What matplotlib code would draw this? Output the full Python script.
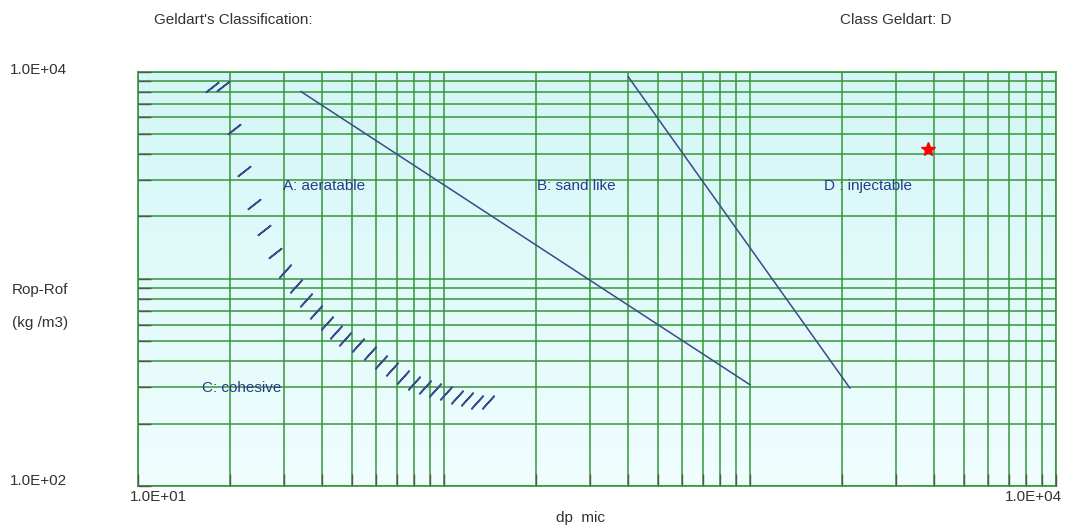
import matplotlib
matplotlib.use("Agg")
import matplotlib.pyplot as plt
import numpy as np
from matplotlib.ticker import LogLocator, NullFormatter

# ---- data ----
ab_dp = [34.1, 1000.0]
ab_rho = [8000.0, 308.0]
bd_dp = [400.0, 2120.0]
bd_rho = [9430.0, 297.0]
ac_dp = [17.45, 18.96, 20.59, 22.20, 23.94, 25.81, 28.04, 30.23, 32.83, 35.40,
         38.17, 41.46, 44.37, 47.49, 52.36, 57.32, 62.27, 67.63, 73.45, 79.80,
         86.69, 93.46, 101.5, 110.3, 118.9, 128.2, 139.3]
ac_rho = [8374, 8466, 5254, 3296, 2286, 1713, 1327, 1087, 920, 788,
          690, 610, 552, 511, 478, 438, 396, 366, 335, 314,
          300, 290, 281, 269, 263, 254, 254]
point_dp = [3810.0]
point_rho = [4220.0]
region_labels = ["A: aeratable", "B: sand like", "D : injectable", "C: cohesive"]
region_dp = [29.8, 201.0, 1746.0, 16.2]
region_rho = [2790.0, 2790.0, 2790.0, 296.0]
x_tick_labels = ["1.0E+01", "1.0E+04"]
y_tick_labels = ["1.0E+02", "1.0E+04"]

W, H = 1067, 527
fig = plt.figure(figsize=(W / 100, H / 100), dpi=100)
fig.patch.set_facecolor("white")
ax = fig.add_axes([138 / W, 41 / H, (1056 - 138) / W, (486 - 71.5) / H])
ax.set_xscale("log")
ax.set_yscale("log")
ax.set_xlim(10, 10000)
ax.set_ylim(100, 10000)
ax.set_autoscale_on(False)

# background gradient
top = np.array([0.83, 0.965, 0.965])
bot = np.array([0.94, 0.995, 0.995])
t = np.linspace(0, 1, 256)[:, None]
grad = (top * (1 - t) + bot * t)[:, None, :].repeat(2, axis=1)
ax.imshow(grad, extent=[0, 1, 0, 1], transform=ax.transAxes, aspect="auto",
          zorder=0, interpolation="bilinear")

grid_c = "#36963a"
ax.xaxis.set_major_locator(LogLocator(base=10, numticks=10))
ax.xaxis.set_minor_locator(LogLocator(base=10, subs=np.arange(2, 10), numticks=20))
ax.yaxis.set_major_locator(LogLocator(base=10, numticks=10))
ax.yaxis.set_minor_locator(LogLocator(base=10, subs=np.arange(2, 10), numticks=20))
ax.grid(True, which="both", color=grid_c, lw=1.1, zorder=1)
ax.set_axisbelow(False)
ax.xaxis.set_major_formatter(NullFormatter())
ax.yaxis.set_major_formatter(NullFormatter())
ax.xaxis.set_minor_formatter(NullFormatter())
ax.yaxis.set_minor_formatter(NullFormatter())
ax.tick_params(which="both", direction="in", length=9, width=1.0, color="#555555",
               top=False, right=False)
for s in ax.spines.values():
    s.set_color(grid_c)
    s.set_linewidth(1.2)

line_c = "#3a4a8c"
ax.plot(ab_dp, ab_rho, color=line_c, lw=1.1, zorder=3)
ax.plot(bd_dp, bd_rho, color=line_c, lw=1.1, zorder=3)
ax.plot(ac_dp[:7], ac_rho[:7], ls="none", marker=(2, 2, -52), ms=12,
        mec=line_c, mew=1.2, zorder=3)
ax.plot(ac_dp[7:], ac_rho[7:], ls="none", marker=(2, 2, -42), ms=13,
        mec=line_c, mew=1.2, zorder=3)
ax.plot(point_dp, point_rho, ls="none", marker="*", ms=10, color="red",
        mec="red", zorder=4)

for lab, x, y in zip(region_labels, region_dp, region_rho):
    ax.text(x, y, lab, color="#2a3a8c", fontsize=11, family="Liberation Sans",
            ha="left", va="center", zorder=5)

fam = "Liberation Sans"
lab_c = "#333333"
fs = 11
fig.text(154 / W, 1 - 20 / H, "Geldart's Classification:", fontsize=fs, family=fam,
         color=lab_c, ha="left", va="center")
fig.text(840 / W, 1 - 20 / H, "Class Geldart: D", fontsize=fs, family=fam,
         color=lab_c, ha="left", va="center")
fig.text(10 / W, 1 - 70 / H, y_tick_labels[1], fontsize=fs, family=fam,
         color=lab_c, ha="left", va="center")
fig.text(10 / W, 1 - 481 / H, y_tick_labels[0], fontsize=fs, family=fam,
         color=lab_c, ha="left", va="center")
fig.text(130 / W, 1 - 497 / H, x_tick_labels[0], fontsize=fs, family=fam,
         color=lab_c, ha="left", va="center")
fig.text(1062 / W, 1 - 497 / H, x_tick_labels[1], fontsize=fs, family=fam,
         color=lab_c, ha="right", va="center")
fig.text(580 / W, 1 - 518 / H, "dp  mic", fontsize=fs, family=fam,
         color=lab_c, ha="center", va="center")
fig.text(12 / W, 1 - 290 / H, "Rop-Rof", fontsize=fs, family=fam,
         color=lab_c, ha="left", va="center")
fig.text(12 / W, 1 - 323 / H, "(kg /m3)", fontsize=fs, family=fam,
         color=lab_c, ha="left", va="center")

fig.savefig("out.png", dpi=100)
